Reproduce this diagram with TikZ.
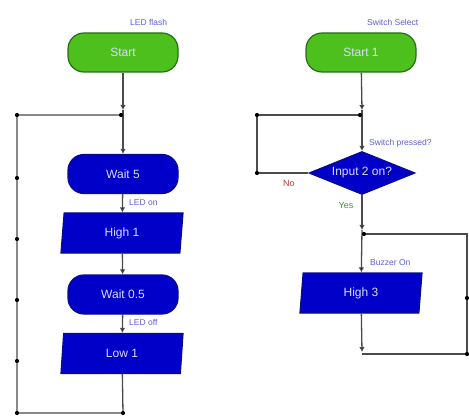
\documentclass[tikz,border=0pt]{standalone}
\usepackage{fontspec}
\setmainfont{Liberation Sans}
\usetikzlibrary{shapes.geometric,arrows.meta}
\definecolor{gfill}{RGB}{78,192,30}
\definecolor{gdraw}{RGB}{40,110,20}
\definecolor{bfill}{RGB}{0,0,200}
\definecolor{bdraw}{RGB}{10,10,140}
\definecolor{tlight}{RGB}{215,220,255}
\definecolor{lblue}{RGB}{95,95,215}
\definecolor{lgray}{RGB}{75,75,75}
\definecolor{nored}{RGB}{190,60,60}
\definecolor{yesgreen}{RGB}{60,150,60}
\tikzset{
  term/.style={rectangle, rounded corners=16pt, minimum width=110pt, minimum height=39pt,
    line width=1.2pt, text=tlight, font=\fontsize{12}{12}\selectfont},
  gterm/.style={term, fill=gfill, draw=gdraw},
  bterm/.style={term, fill=bfill, draw=bdraw},
  io/.style={trapezium, trapezium left angle=80, trapezium right angle=100,
    trapezium stretches body, minimum width=122pt, minimum height=40pt,
    fill=bfill, draw=bdraw, line width=1.2pt, text=tlight, font=\fontsize{12}{12}\selectfont},
  dec/.style={diamond, aspect=2.4, minimum width=106pt, minimum height=43pt, inner sep=0pt,
    fill=bfill, draw=bdraw, line width=1.2pt, text=tlight, font=\fontsize{12}{12}\selectfont},
  lbl/.style={font=\fontsize{8.5}{8.5}\selectfont, text=lblue, inner sep=1pt, anchor=west},
  conn/.style={draw=lgray, line width=1.3pt},
  arr/.style={conn, -{Latex[length=5pt,width=5.5pt,fill=black]}},
  dotm/.style={fill=black}
}
\begin{document}
\begin{tikzpicture}[x=1pt,y=-1pt]
\useasboundingbox[fill=white] (0,0) rectangle (469,417);

% ---------- left chart ----------
\node[gterm] (start) at (123,52.5) {Start};
\node[lbl] (lab1) at (129,22) {LED flash};
\node[bterm] (wait5) at (123,174) {Wait 5};
\node[io] (high1) at (122,233) {High 1};
\node[bterm] (wait05) at (123,294.5) {Wait 0.5};
\node[io] (low1) at (122,353.5) {Low 1};
\node[lbl] (lab2) at (128,203) {LED on};
\node[lbl] (lab3) at (128,322) {LED off};

\coordinate (j1) at (123,110);
\coordinate (j1b) at (121,115);
\coordinate (lb) at (123,413);
\coordinate (bl) at (17,413);
\coordinate (tl) at (17,115);

\draw[arr] (start) -- (j1);
\draw[arr] (j1) -- (wait5);
\draw[arr] (wait5) -- (high1);
\draw[arr] (high1) -- (wait05);
\draw[arr] (wait05) -- (low1);
\draw[conn] (low1) -- (lb) -- (bl) -- (tl) -- (j1b);
\foreach \p in {(lb),(bl),(tl),(j1b),(17,178),(17,239),(17,300),(17,361)}
  \fill[dotm] \p circle (2.1pt);

% ---------- right chart ----------
\node[gterm] (start1) at (361,52.5) {Start 1};
\node[lbl] (lab4) at (366,22) {Switch Select};
\node[dec] (inp) at (362,173) {Input 2 on?};
\node[lbl] (lab5) at (368,143) {Switch pressed?};
\node[font=\fontsize{9}{9}\selectfont, text=nored, inner sep=1pt] (labno) at (289,183) {No};
\node[font=\fontsize{9}{9}\selectfont, text=yesgreen, inner sep=1pt] (labyes) at (346,205) {Yes};
\node[io] (high3) at (361,293) {High 3};
\node[lbl] (lab6) at (369,263) {Buzzer On};

\coordinate (j2) at (362,110);
\coordinate (j2b) at (360,115);
\coordinate (nl) at (257,173);
\coordinate (nt) at (257,115);
\coordinate (j3) at (362,230);
\coordinate (j3b) at (364,234);
\coordinate (j4) at (362,352);
\coordinate (j4b) at (362,354);
\coordinate (rt) at (467,234);
\coordinate (rb) at (467,354);

\draw[arr] (start1) -- (j2);
\draw[arr] (j2) -- (inp);
\draw[conn] (inp.west) -- (nl) -- (nt) -- (j2b);
\draw[arr] (inp.south) -- (j3);
\draw[arr] (j3) -- (high3);
\draw[arr] (high3) -- (j4);
\draw[conn] (j3b) -- (rt) -- (rb) -- (j4b);
\foreach \p in {(j2b),(nl),(nt),(j3b),(467,298),(rb)}
  \fill[dotm] \p circle (2.1pt);
\end{tikzpicture}
\end{document}
